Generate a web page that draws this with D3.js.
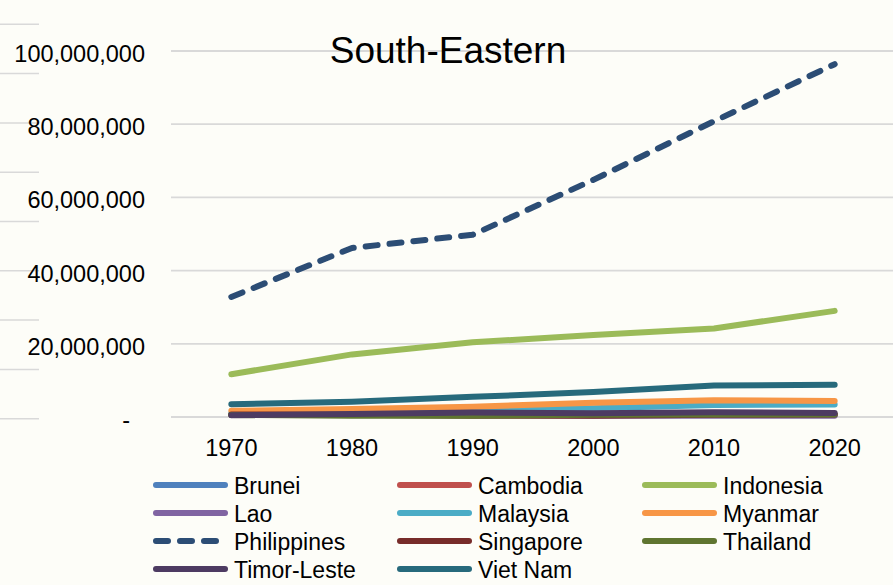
<!DOCTYPE html>
<html>
<head>
<meta charset="utf-8">
<script src="https://cdn.jsdelivr.net/npm/d3@7"></script>
<style>
  html, body { margin: 0; padding: 0; background: #fdfdf8; }
  svg { display: block; font-family: "Liberation Sans", Arial, sans-serif; }
</style>
</head>
<body>
<svg id="chart" width="893" height="585"></svg>
<script>
// ---- data ----
const years = ["1970", "1980", "1990", "2000", "2010", "2020"];
const countries = ["Brunei", "Cambodia", "Indonesia", "Lao", "Malaysia", "Myanmar",
                   "Philippines", "Singapore", "Thailand", "Timor-Leste", "Viet Nam"];
const brunei     = [600000, 600000, 600000, 600000, 600000, 600000];
const cambodia   = [600000, 600000, 600000, 600000, 600000, 600000];
const indonesia  = [11700000, 17100000, 20400000, 22400000, 24200000, 29000000];
const lao        = [700000, 700000, 600000, 350000, 350000, 350000];
const malaysia   = [1000000, 1400000, 1900000, 2400000, 3300000, 3400000];
const myanmar    = [1700000, 2200000, 2800000, 3900000, 4600000, 4400000];
const philippines= [32800000, 46200000, 49800000, 64800000, 80800000, 96400000];
const singapore  = [700000, 600000, 350000, 350000, 600000, 700000];
const thailand   = [550000, 350000, 350000, 600000, 700000, 700000];
const timorLeste = [500000, 800000, 1200000, 1000000, 1300000, 1100000];
const vietNam    = [3500000, 4200000, 5500000, 6800000, 8600000, 8800000];
const seriesValues = [brunei, cambodia, indonesia, lao, malaysia, myanmar,
                      philippines, singapore, thailand, timorLeste, vietNam];
const colors = ["#4F81BD", "#C0504D", "#9BBB59", "#8064A2", "#4BACC6", "#F79646",
                "#2C4D75", "#772C2A", "#5F7530", "#4D3B62", "#276A7C"];
const yTicks = [0, 20000000, 40000000, 60000000, 80000000, 100000000];
const title = "South-Eastern";

// ---- layout ----
const svg = d3.select("#chart");
const W = 893, H = 585;
const plot = { left: 171, right: 895, top: 51, bottom: 417 };

svg.append("rect").attr("width", W).attr("height", H).attr("fill", "#fdfdf8");

const x = d3.scaleBand().domain(years).range([plot.left, plot.right]).padding(0);
const xc = d => x(d) + x.bandwidth() / 2;
const y = d3.scaleLinear().domain([0, 100000000]).range([plot.bottom, plot.top]);

// neighbouring chart's gridline stubs at the left edge
const stub = d3.scaleLinear().domain([0, 8]).range([418.7, 24.3]);
svg.append("g").selectAll("line").data(d3.range(9)).join("line")
  .attr("x1", 0).attr("x2", 39)
  .attr("y1", d => stub(d)).attr("y2", d => stub(d))
  .attr("stroke", "#d9d9d9").attr("stroke-width", 1.5);

// gridlines
svg.append("g").selectAll("line").data(yTicks).join("line")
  .attr("x1", plot.left).attr("x2", W)
  .attr("y1", d => y(d)).attr("y2", d => y(d))
  .attr("stroke", "#d9d9d9").attr("stroke-width", 1.8);

// y axis labels
const yAxis = svg.append("g").attr("transform", `translate(${plot.left},0)`)
  .call(d3.axisLeft(y).tickValues(yTicks).tickSize(0).tickPadding(26)
    .tickFormat(d => d === 0 ? "-" : d3.format(",")(d)));
yAxis.select(".domain").remove();
yAxis.selectAll("text")
  .attr("font-size", 23.5).attr("fill", "#000")
  .attr("font-family", "'Liberation Sans', Arial, sans-serif")
  .attr("dy", "0.45em")
  .attr("dx", d => d === 0 ? -15 : 0);

// x axis labels
const xAxis = svg.append("g").attr("transform", `translate(0,${plot.bottom})`)
  .call(d3.axisBottom(x).tickSize(0).tickPadding(22));
xAxis.select(".domain").remove();
xAxis.selectAll("text")
  .attr("font-size", 23.5).attr("fill", "#000")
  .attr("font-family", "'Liberation Sans', Arial, sans-serif");

// lines
const line = d3.line().x((d, i) => xc(years[i])).y(d => y(d));
svg.append("g").selectAll("path").data(seriesValues).join("path")
  .attr("d", d => line(d))
  .attr("fill", "none")
  .attr("stroke", (d, i) => colors[i])
  .attr("stroke-width", 6)
  .attr("stroke-linecap", "round")
  .attr("stroke-linejoin", "round")
  .attr("stroke-dasharray", (d, i) => countries[i] === "Philippines" ? "12,12" : null);

// title
svg.append("text").attr("x", 448).attr("y", 63)
  .attr("text-anchor", "middle").attr("font-size", 37).attr("fill", "#000")
  .text(title);

// legend
const colX = [156, 400, 645];
const rowY = [485, 513, 541, 569];
const leg = svg.append("g").selectAll("g").data(countries).join("g")
  .attr("transform", (d, i) => `translate(${colX[i % 3]},${rowY[Math.floor(i / 3)]})`);
leg.append("line")
  .attr("x1", 0).attr("x2", 69).attr("y1", 0).attr("y2", 0)
  .attr("stroke", (d, i) => colors[i]).attr("stroke-width", 6)
  .attr("stroke-linecap", "round")
  .attr("stroke-dasharray", d => d === "Philippines" ? "12,12" : null);
leg.append("text")
  .attr("x", 78).attr("y", 0).attr("dy", "0.38em")
  .attr("font-size", 23).attr("fill", "#000")
  .text(d => d);
</script>
</body>
</html>
